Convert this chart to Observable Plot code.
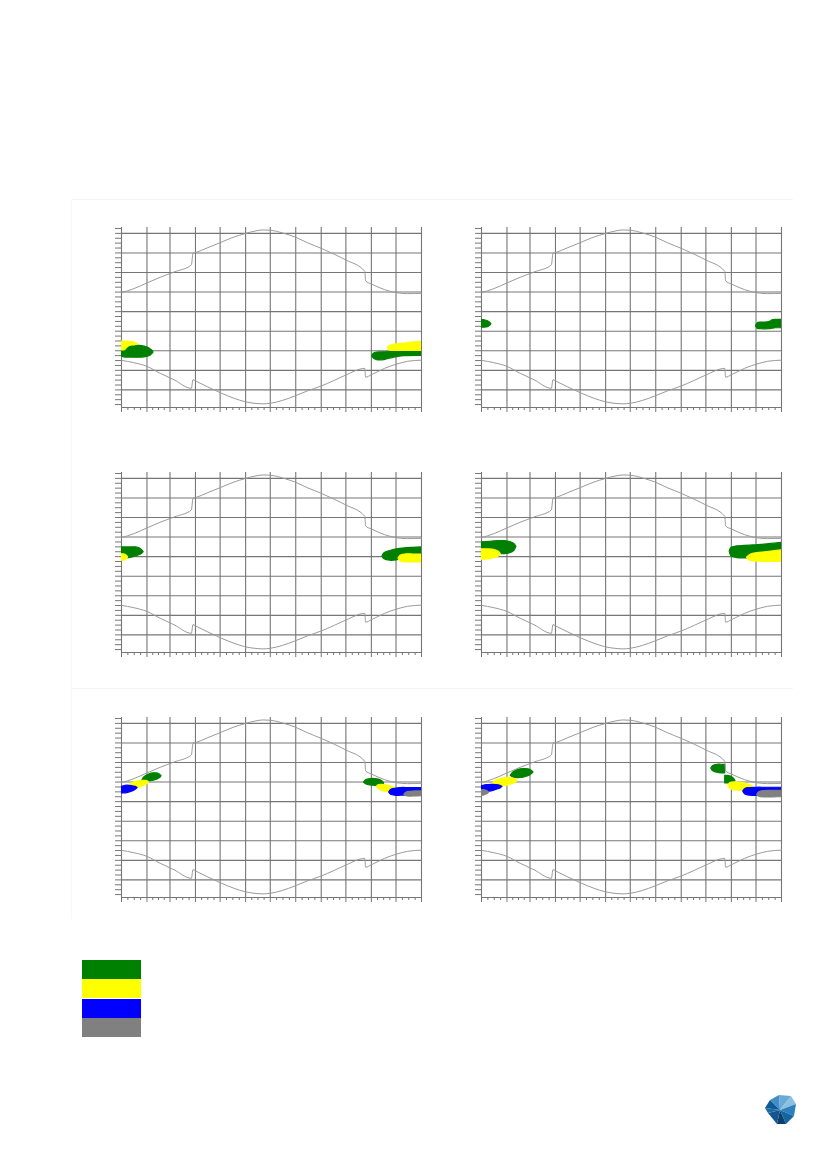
<!DOCTYPE html>
<html><head><meta charset="utf-8">
<script src="https://cdn.jsdelivr.net/npm/d3@7"></script>
<script src="https://cdn.jsdelivr.net/npm/@observablehq/plot@0.6"></script>
<style>
html,body{margin:0;padding:0;background:#fff;}
#page{position:relative;width:827px;height:1169px;overflow:hidden;font-family:"DejaVu Sans",sans-serif;}
.panel{position:absolute;}
.hline{position:absolute;height:0;border-top:1px solid #f4f4f4;}
.vline{position:absolute;width:0;border-left:1px solid #f7f7f7;}
.swatch{position:absolute;left:82px;width:59px;height:19px;}
#logo{position:absolute;left:764px;top:1094px;}
</style></head><body><div id="page"></div>
<script>
// ---------- axes ----------
const monthStartDays = [0, 31, 59, 90, 120, 151, 181, 212, 243, 273, 304, 334, 365];
const yDomain = [4.2, 22.6];
const gridHours = [6, 8, 10, 12, 14, 16, 18, 20, 22];

// ---------- sunrise / sunset (hours) ----------
const sunDays     = [0, 15, 31, 47, 64, 85, 87, 90, 105, 120, 137, 150, 165, 172, 181, 196, 211, 226, 243, 259, 273, 296, 297, 304, 320, 334, 348, 365];
const sunsetHours = [15.94, 16.35, 16.93, 17.51, 18.05, 18.77, 19.96, 20.03, 20.54, 21.05, 21.63, 21.97, 22.28, 22.35, 22.32, 22.04, 21.63, 21.05, 20.47, 19.86, 19.28, 18.12, 17.13, 16.83, 16.25, 15.94, 15.84, 15.87];
const sunriseHours= [9.02, 8.78, 8.4, 7.7, 7.03, 6.16, 7.05, 6.92, 6.3, 5.72, 5.14, 4.8, 4.6, 4.57, 4.63, 4.93, 5.38, 5.89, 6.4, 6.98, 7.52, 8.2, 7.3, 7.55, 8.2, 8.62, 8.92, 9.04];

// ---------- series ----------
const seriesNames  = ["A", "B", "C", "D"];
const seriesColors = ["#008000", "#ffff00", "#0000ff", "#808080"];

// ---------- periods: [day, from hour, to hour] ----------
// panel 1 (row 1, left)
const p1GreenJan  = [[0,9.39,9.95],[3,9.33,10.2],[7,9.3,10.45],[14,9.29,10.49],[22,9.29,10.49],[28,9.33,10.42],[33,9.42,10.28],[36,9.55,10.1],[38,9.7,9.95],[39,9.82,9.82]];
const p1YellowJan = [[0,10.05,10.93],[4,10.05,10.93],[7,10.3,10.93],[10,10.5,10.92],[15,10.55,10.85],[18,10.6,10.75],[20,10.68,10.68]];
const p1GreenDec  = [[305,9.45,9.45],[307,9.2,9.7],[311,9.03,9.82],[320,9.05,9.85],[332,9.3,9.88],[344,9.45,9.92],[365,9.48,9.95]];
const p1YellowDec = [[324,10.25,10.25],[326,10.02,10.45],[332,9.98,10.62],[345,9.98,10.75],[355,9.98,10.85],[365,9.98,10.92]];
// panel 2 (row 1, right)
const p2GreenJan  = [[0,12.36,13.12],[4,12.36,13.12],[8,12.42,13.02],[10.5,12.55,12.88],[12,12.72,12.72]];
const p2GreenDec  = [[334,12.5,12.5],[336,12.25,12.8],[340,12.2,12.88],[350,12.2,12.92],[354,12.25,13.1],[358,12.3,13.15],[365,12.32,13.15]];
// panel 3 (row 2, left)
const p3GreenJan  = [[0,14.22,14.94],[5,14.2,14.94],[8,13.85,14.94],[12,13.9,14.94],[18,14.05,14.94],[22,14.15,14.85],[25,14.28,14.65],[27,14.45,14.45]];
const p3YellowJan = [[0,13.58,14.22],[4,13.6,14.22],[6.5,13.75,14.1],[8,13.95,13.95]];
const p3GreenDec  = [[317.5,14.02,14.02],[320,13.72,14.35],[327,13.58,14.58],[335,13.62,14.75],[345,13.85,14.85],[355,14.05,14.9],[365,14.18,14.94]];
const p3YellowDec = [[337,13.8,13.8],[339.5,13.5,14.1],[345,13.42,14.22],[355,13.4,14.22],[365,13.4,14.22]];
// panel 4 (row 2, right)
const p4GreenJan  = [[0,14.5,15.45],[10,14.4,15.52],[20,14.3,15.59],[28,14.25,15.59],[35,14.35,15.5],[40,14.6,15.3],[42.5,15.0,15.0]];
const p4YellowJan = [[0,13.68,14.74],[8,13.72,14.74],[16,13.85,14.68],[21,14.0,14.5],[23.5,14.26,14.26]];
const p4GreenDec  = [[302,14.5,14.5],[304,14.05,14.88],[311,13.85,15.05],[320,13.82,15.1],[330,13.85,15.15],[340,13.9,15.2],[352,14.0,15.3],[365,14.0,15.4]];
const p4YellowDec = [[323,13.9,13.9],[326,13.6,14.12],[332,13.5,14.3],[345,13.47,14.45],[355,13.47,14.55],[365,13.48,14.63]];
// panel 5 (row 3, left)
const p5GreenJan  = [[25.5,16.2,16.2],[28,16.06,16.5],[33,16.06,16.75],[38,16.12,16.88],[43,16.25,16.88],[47,16.4,16.75],[48.7,16.6,16.6]];
const p5YellowJan = [[9.3,15.62,15.62],[12,15.45,15.85],[17,15.39,16.0],[22,15.45,16.1],[27,15.6,16.13],[31,15.75,16.1],[33.6,15.96,15.96]];
const p5BlueJan   = [[0,14.84,15.5],[5,14.85,15.62],[10,14.95,15.62],[15,15.1,15.55],[18,15.25,15.48],[19.5,15.39,15.39]];
const p5GreenDec  = [[295,15.95,15.95],[298,15.75,16.2],[303,15.65,16.31],[308,15.62,16.31],[313,15.62,16.25],[317,15.68,16.1],[319.5,15.85,15.85]];
const p5YellowDec = [[310.6,15.52,15.52],[313,15.3,15.7],[318,15.1,15.72],[323,14.98,15.65],[328,14.94,15.55],[332,15.0,15.4],[333.7,15.18,15.18]];
const p5BlueDec   = [[325.6,14.94,14.94],[328,14.7,15.2],[333,14.6,15.32],[340,14.6,15.39],[350,14.62,15.39],[365,14.65,15.39]];
const p5GrayDec   = [[344,14.7,14.7],[347,14.55,14.92],[352,14.52,15.0],[358,14.53,15.04],[365,14.55,15.04]];
// panel 6 (row 3, right)
const p6GreenJan  = [[35.6,16.64,16.64],[39,16.45,17.0],[45,16.41,17.25],[51,16.45,17.33],[57,16.6,17.3],[61,16.8,17.15],[63.2,16.98,16.98]];
const p6YellowJan = [[13.4,15.8,15.8],[17,15.6,16.1],[23,15.55,16.3],[29,15.6,16.41],[35,15.72,16.4],[41,15.9,16.3],[43.8,16.13,16.13]];
const p6BlueJan   = [[0,14.94,15.55],[6,14.96,15.68],[12,15.05,15.72],[18,15.2,15.7],[23,15.35,15.62],[25.5,15.52,15.52]];
const p6GrayJan   = [[0,14.6,15.15],[3,14.62,15.18],[6,14.72,15.1],[9.3,14.94,14.94]];
const p6GreenOct  = [[279.5,17.39,17.39],[282,17.1,17.65],[287,16.95,17.77],[292,16.88,17.77],[296.5,16.88,17.77]];
const p6GreenNov  = [[296.5,15.86,16.64],[300,15.86,16.64],[304,15.9,16.55],[307,15.95,16.35],[309,16.1,16.1]];
const p6YellowDec = [[300.2,15.62,15.62],[303,15.3,15.9],[309,15.15,15.96],[316,15.11,15.92],[323,15.12,15.8],[329,15.2,15.6],[331.3,15.39,15.39]];
const p6BlueDec   = [[318.4,15.04,15.04],[321,14.72,15.3],[327,14.6,15.39],[335,14.6,15.42],[345,14.62,15.42],[355,14.65,15.42],[365,14.7,15.42]];
const p6GrayDec   = [[335.4,14.7,14.7],[338,14.5,14.95],[344,14.43,15.08],[352,14.43,15.11],[360,14.45,15.11],[365,14.47,15.11]];

const panelBlobs = [
  [["A", p1GreenJan], ["A", p1GreenDec], ["B", p1YellowJan], ["B", p1YellowDec]],
  [["A", p2GreenJan], ["A", p2GreenDec]],
  [["A", p3GreenJan], ["A", p3GreenDec], ["B", p3YellowJan], ["B", p3YellowDec]],
  [["A", p4GreenJan], ["A", p4GreenDec], ["B", p4YellowJan], ["B", p4YellowDec]],
  [["A", p5GreenJan], ["A", p5GreenDec], ["B", p5YellowJan], ["B", p5YellowDec], ["C", p5BlueJan], ["C", p5BlueDec], ["D", p5GrayDec]],
  [["A", p6GreenJan], ["A", p6GreenOct], ["A", p6GreenNov], ["B", p6YellowJan], ["B", p6YellowDec], ["C", p6BlueJan], ["C", p6BlueDec], ["D", p6GrayJan], ["D", p6GrayDec]]
];

// ---------- derived ----------
const sun = sunDays.map((d, i) => ({day: d, sunset: sunsetHours[i], sunrise: sunriseHours[i]}));
const halfHours = d3.range(4.5, 22.51, 0.5);
const quarterDays = monthStartDays.slice(0, -1).flatMap((s, i) => {
  const len = monthStartDays[i + 1] - s;
  return [1, 2, 3].map(k => s + len * k / 4);
});
const colorOf = s => seriesColors[seriesNames.indexOf(s)];

const gridColor = "#767676";
const curveColor = "#9a9a9a";
const mL = 8, mR = 4, mT = 2, mB = 8, plotW = 300, plotH = 180;
const frameLefts = [121, 481];
const frameTops = [227, 472, 717];

const page = document.getElementById("page");

// faint section frames
[[71, 199, 722], [71, 688, 722]].forEach(([l, t, w]) => {
  const d = document.createElement("div"); d.className = "hline";
  d.style.left = l + "px"; d.style.top = t + "px"; d.style.width = w + "px"; page.appendChild(d);
});
{ const v = document.createElement("div"); v.className = "vline";
  v.style.left = "71px"; v.style.top = "199px"; v.style.height = "720px"; page.appendChild(v); }

panelBlobs.forEach((blobs, idx) => {
  const row = Math.floor(idx / 2), col = idx % 2;
  const ordered = blobs.slice().sort((a, b) => seriesNames.indexOf(a[0]) - seriesNames.indexOf(b[0]));
  const chart = Plot.plot({
    width: plotW + mL + mR, height: plotH + mT + mB,
    marginLeft: mL, marginRight: mR, marginTop: mT, marginBottom: mB,
    x: {domain: [0, 365], axis: null},
    y: {domain: yDomain, axis: null},
    style: {background: "transparent", overflow: "visible"},
    marks: [
      Plot.ruleY([yDomain[0], ...gridHours], {stroke: gridColor, strokeWidth: 1.1}),
      Plot.ruleX(monthStartDays, {stroke: gridColor, strokeWidth: 1.1}),
      Plot.axisY(halfHours, {tickSize: 6, tickFormat: () => "", fill: "none", stroke: gridColor, strokeWidth: 1, label: null}),
      Plot.axisX(quarterDays, {tickSize: 3, tickFormat: () => "", fill: "none", stroke: gridColor, strokeWidth: 1, label: null}),
      Plot.axisX(monthStartDays, {tickSize: 5, tickFormat: () => "", fill: "none", stroke: gridColor, strokeWidth: 1, label: null}),
      ...ordered.map(([s, data]) => Plot.areaY(data, {
        x: d => d[0], y1: d => d[1], y2: d => d[2],
        fill: colorOf(s), stroke: colorOf(s), strokeWidth: 1.2, strokeLinejoin: "round",
        curve: "catmull-rom", clip: true
      })),
      Plot.line(sun, {x: "day", y: "sunset", stroke: curveColor, strokeWidth: 1, curve: "monotone-x"}),
      Plot.line(sun, {x: "day", y: "sunrise", stroke: curveColor, strokeWidth: 1, curve: "monotone-x"})
    ]
  });
  const div = document.createElement("div");
  div.className = "panel";
  div.style.left = (frameLefts[col] - mL) + "px";
  div.style.top = (frameTops[row] - mT) + "px";
  div.appendChild(chart);
  page.appendChild(div);
});

// legend swatches
seriesColors.forEach((c, i) => {
  const s = document.createElement("div");
  s.className = "swatch";
  s.style.top = (960 + i * 19.4) + "px";
  s.style.background = c;
  page.appendChild(s);
});

// logo
page.insertAdjacentHTML("beforeend", `<svg id="logo" width="33" height="32" viewBox="0 0 33 32">
<polygon points="6,6 15,1 16,16" fill="#3f8fc6"/>
<polygon points="15,1 27,2 16,16" fill="#6aaad6"/>
<polygon points="27,2 32,10 16,16" fill="#8cc0e2"/>
<polygon points="32,10 30,22 16,16" fill="#2e7fbd"/>
<polygon points="30,22 22,30 16,16" fill="#1566a0"/>
<polygon points="22,30 13,30 16,16" fill="#0d3f6f"/>
<polygon points="13,30 4,19 16,16" fill="#125590"/>
<polygon points="4,19 1,14 16,16" fill="#1b6aa8"/>
<polygon points="1,14 6,6 16,16" fill="#0f5a96"/>
</svg>`);
</script>
</body></html>
